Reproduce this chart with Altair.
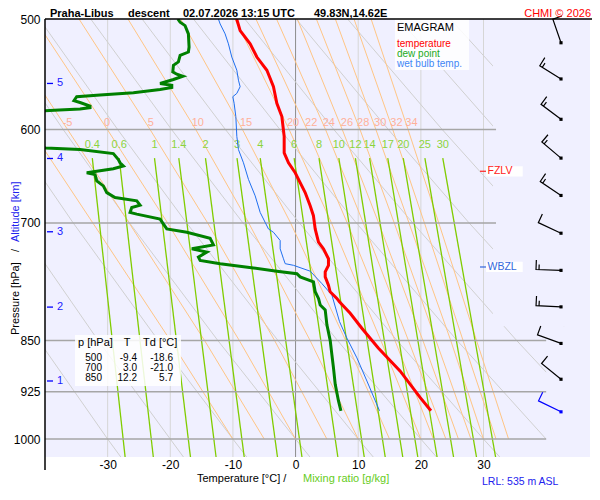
import altair as alt
import pandas as pd

FONT = 'Liberation Sans'

# --- sounding: pressure [hPa], value [degC] ---
temp_p = [500, 509.7, 520.9, 532.4, 544.1, 559.1, 574.6, 587.3, 606.8, 623.6, 633.9,
          644.4, 655.0, 665.8, 680.5, 691.7, 707.0, 722.6, 730.6, 742.6, 750.7, 759.0,
          765.2, 775.7, 784.2, 792.9, 797.2, 812.6, 832.8, 860.5, 893.9, 933.9, 954.4]
temp_t = [-9.4, -8.85, -7.25, -6.18, -4.58, -3.53, -2.99, -2.19, -1.82, -1.82, -1.13,
          -0.06, 0.73, 1.53, 2.33, 2.85, 3.13, 3.66, 4.45, 5.25, 5.25, 4.73,
          4.73, 5.25, 5.52, 6.59, 7.0, 8.72, 10.58, 13.2, 16.71, 19.9, 21.61]

dew_p = [500, 502.7, 505.5, 512.4, 523.7, 528.0, 531.0, 536.7, 539.7, 545.6, 547.7,
         549.5, 552.5, 556.1, 557.7, 559.8, 561.6, 564.6, 566.9, 568.4, 572.1, 573.9,
         577.2, 578.7, 580.0, 581.0, 583.0, 600.0, 616.0, 618.5, 620.2, 624.3, 630.5,
         633.9, 637.3, 640.2, 644.4, 646.2, 653.2, 658.5, 665.8, 671.3, 674.9, 679.8,
         682.4, 688.0, 689.9, 695.6, 707.0, 710.9, 717.9, 725.8, 730.5, 734.5, 740.6,
         744.6, 748.7, 754.0, 758.1, 761.1, 765.2, 771.5, 784.2, 792.9, 801.5, 808.1,
         828.2, 850, 870.2, 889.2, 913.7, 939.0, 954.4]
dew_t = [-18.8, -18.43, -17.64, -17.11, -17.0, -17.11, -18.43, -18.71, -19.5, -19.6, -18.96,
         -18.0, -19.5, -21.63, -19.76, -19.76, -21.63, -25.89, -31.21, -34.94, -35.37, -34.41,
         -32.81, -32.81, -34.41, -37.72, -45, -48, -45, -39.9, -34.41, -29.09, -28.29,
         -28.02, -27.49, -29.09, -33.34, -32.01, -31.74, -30.69, -30.14, -28.82, -25.35, -24.82,
         -26.15, -26.42, -25.35, -21.63, -20.56, -17.36, -13.64, -13.11, -16.57, -14.17, -15.51,
         -15.24, -12.04, -6.73, -2.99, 0.21, 0.73, 2.86, 3.13, 3.66, 3.93, 4.73,
         5.0, 5.53, 5.8, 6.05, 6.33, 6.85, 7.24]

wet_p = [500, 504.1, 512.4, 520.9, 532.4, 544.1, 553.1, 559.1, 565.3, 568.4, 574.6,
         587.3, 606.8, 620.2, 633.9, 651.5, 669.4, 688.0, 699.3, 707.0, 710.9, 720.6,
         730.6, 742.7, 748.7, 750.7, 758.0, 773.7, 788.5, 823.7, 846.5, 874.6, 908.7, 954.4]
wet_t = [-12.32, -12.04, -11.25, -10.72, -10.18, -9.38, -9.12, -8.85, -9.38, -10.02, -9.81,
         -9.54, -9.38, -9.12, -8.32, -7.52, -6.45, -5.65, -4.86, -4.33, -3.53, -2.46,
         -2.46, -1.93, -1.66, -0.34, 2.33, 4.2, 5.8, 7.01, 8.19, 9.79, 11.39, 13.4]

# --- diagram lines ---
iso_t = [-30, -20, -10, 0, 10, 20, 30]
isobar_p = [600, 700, 850, 925, 1000]
isobar_end = [32, 32, 40, 40, 40]

dry_levels = [500, 600, 700, 850, 1000, 1030]
dry_t = [
    [-73.7, -63.0, -53.6, -41.0, -30, -27.9],
    [-65.5, -54.4, -44.5, -31.5, -20, -17.9],
    [-57.3, -45.7, -35.5, -21.9, -10, -7.8],
    [-49.1, -37.1, -26.5, -12.4, 0, 2.3],
    [-40.9, -28.4, -17.4, -2.8, 10, 12.4],
    [-32.7, -19.8, -8.4, 6.7, 20, 22.5],
    [-24.5, -11.2, 0.6, 16.2, 30, 32.6],
    [-16.3, -2.5, 9.7, 25.8, 40, 42.7],
    [-8.1, 6.1, 18.7, 35.3, 50, 52.7],
    [0.1, 14.8, 27.7, 44.9, 60, 62.8],
    [8.3, 23.4, 36.8, 54.4, 70, 72.9],
    [16.5, 32.0, 45.8, 64.0, 80, 83.0],
    [24.7, 40.7, 54.8, 73.5, 90, 93.1],
    [32.9, 49.3, 63.9, 83.1, 100, 103.2],
]

moist_levels = [500, 600, 700, 850, 1000]
moist_theta = [-10, -5, 0, 5, 10, 15, 20, 22, 24, 26, 28, 30, 32, 34]
moist_t = [
    [-53.7, -42.25, -32.37, -19.97, -10],
    [-48.0, -36.40, -26.58, -14.52, -5],
    [-41.65, -30.05, -20.43, -8.97, 0],
    [-34.57, -23.23, -14.04, -3.34, 5],
    [-26.76, -15.94, -7.48, 2.33, 10],
    [-18.34, -8.48, -0.80, 8.0, 15],
    [-9.67, -1.03, 5.73, 13.62, 20],
    [-6.33, 1.83, 8.25, 15.87, 22],
    [-3.04, 4.78, 10.81, 18.02, 24],
    [0.28, 7.45, 13.26, 20.33, 26],
    [3.32, 10.28, 15.75, 22.42, 28],
    [6.35, 12.82, 18.10, 24.77, 30],
    [9.33, 15.51, 20.57, 26.74, 32],
    [12.06, 17.95, 22.86, 28.89, 34],
]
moist_labels = ['-5', '0', '5', '10', '15', '20', '22', '24', '26', '28', '30', '32', '34']
moist_label_t = [-36.4, -30.1, -23.1, -15.6, -7.9, -0.4, 2.5, 5.3, 8.2, 10.8, 13.5, 16.1, 18.5]
moist_label_p = 594

mix_labels = ['0.4', '0.6', '1', '1.4', '2', '3', '4', '6', '8', '10', '12', '14', '17', '20', '25', '30']
mix_top_p, mix_bot_p = 629, 1030
mix_top_t = [-32.45, -28.16, -22.52, -18.64, -14.38, -9.35, -5.64, -0.23, 3.74, 6.91,
             9.55, 11.82, 14.72, 17.19, 20.64, 23.50]
mix_bot_t = [-27.21, -22.71, -16.78, -12.69, -8.20, -2.89, 1.02, 6.75, 10.96, 14.31,
             17.11, 19.51, 22.59, 25.22, 28.88, 31.93]
mix_label_p = 616

# area on the right where the grid lines stop
mask_t0 = [31.5, 40]
mask_p0 = [500, 830]
mask_p1 = [830, 1030]

# altitude marks
alt_km = ['5', '4', '3', '2', '1']
alt_p = [556.1, 629.4, 710.3, 804.3, 908.6]

# wind barbs
barb_p = [520, 552, 590, 629, 669, 712, 757, 804, 854, 906, 956]
barb_dir = [341, 302, 307, 310, 304, 295, 272, 273, 290, 309, 296]
barb_kt = [10, 15, 15, 15, 15, 10, 15, 15, 10, 10, 10]

# table of standard levels
tbl_p = [500, 700, 850]
tbl_t = [-9.4, 3.0, 12.2]
tbl_td = [-18.6, -21.0, 5.7]

fzlv_p = 642.8
wbzl_p = 752.8

W, H = 545, 438
x_scale = alt.Scale(domain=[-40, 47], nice=False, zero=False)
y_scale = alt.Scale(type='log', domain=[500, 1030], reverse=True, nice=False)


def xenc(field='t'):
    return alt.X(f'{field}:Q', scale=x_scale,
                 axis=alt.Axis(values=iso_t, labelExpr="'' + datum.value", title=None,
                               grid=False, ticks=False, tickSize=0, domain=False,
                               labelFontSize=12, labelFont=FONT, labelColor='black',
                               labelPadding=2))


def yenc(field='p'):
    return alt.Y(f'{field}:Q', scale=y_scale,
                 axis=alt.Axis(values=[500, 600, 700, 850, 925, 1000],
                               labelExpr="'' + datum.value", title=None,
                               grid=False, ticks=False, tickSize=0, domain=False,
                               labelFontSize=12, labelFont=FONT, labelColor='black',
                               labelPadding=5))


ONE = pd.DataFrame({'a': [0]})


def label(text, x, y, color='black', size=11, bold=False, align='left', angle=0,
          baseline='middle'):
    kw = dict(text=text, align=align, baseline=baseline, color=color, fontSize=size,
              font=FONT, fontWeight='bold' if bold else 'normal')
    if angle:
        kw['angle'] = angle
        kw['baseline'] = 'alphabetic'
    return alt.Chart(ONE).mark_text(**kw).encode(x=alt.value(x), y=alt.value(y))


def long_lines(levels, table):
    rows = []
    for k, line in enumerate(table):
        for p, t in zip(levels, line):
            rows.append({'line': k, 'p': p, 't': t})
    return pd.DataFrame(rows)


def profile(ps, ts):
    return pd.DataFrame({'p': ps, 't': ts, 'i': range(len(ps))})


dry = long_lines(dry_levels, dry_t)
moist = long_lines(moist_levels, moist_t)
mix = long_lines([mix_top_p, mix_bot_p], [list(v) for v in zip(mix_top_t, mix_bot_t)])

isotherms = alt.Chart(pd.DataFrame({'t': iso_t})).mark_rule(strokeWidth=1).encode(
    x=xenc(),
    color=alt.condition('datum.t == 0', alt.value('#8C8C8C'), alt.value('#D6D6D6'))
)
dry_lines = alt.Chart(dry).mark_line(clip=True, color='#D0D0D0', strokeWidth=1).encode(
    x=xenc(), y=yenc(), detail='line:N', order='p:Q')
moist_lines = alt.Chart(moist).mark_line(clip=True, color='#FFC585', strokeWidth=1).encode(
    x=xenc(), y=yenc(), detail='line:N', order='p:Q')
mix_lines = alt.Chart(mix).mark_line(clip=True, color='#80CC00', strokeWidth=1.3).encode(
    x=xenc(), y=yenc(), detail='line:N', order='p:Q')
mask = alt.Chart(pd.DataFrame({'t0': mask_t0, 't1': [47, 47], 'p0': mask_p0, 'p1': mask_p1})
                 ).mark_rect(color='#F0F0FF').encode(x=xenc('t0'), x2='t1', y=yenc('p0'), y2='p1')
isobars = alt.Chart(pd.DataFrame({'p': isobar_p, 't0': -40, 't1': isobar_end})).mark_rule(
    color='#A6A6A6', strokeWidth=1.5).encode(x=xenc('t0'), x2='t1', y=yenc())

moist_text = alt.Chart(pd.DataFrame({'t': moist_label_t, 'p': moist_label_p, 'lab': moist_labels})
                       ).mark_text(color='#FFB09A', fontSize=11, font=FONT).encode(
    x=xenc(), y=yenc(), text='lab:N')
mix_text = alt.Chart(pd.DataFrame({'t': mix_top_t, 'p': mix_label_p, 'lab': mix_labels})
                     ).mark_text(color='#8CD43C', fontSize=11, font=FONT).encode(
    x=xenc(), y=yenc(), text='lab:N')

# boxes behind legend and table
legend_box = alt.Chart(ONE).mark_rect(color='white', opacity=0.85).encode(
    x=alt.value(350), x2=alt.value(424), y=alt.value(0), y2=alt.value(51))
table_box = alt.Chart(ONE).mark_rect(color='white', opacity=0.85).encode(
    x=alt.value(30), x2=alt.value(136), y=alt.value(316), y2=alt.value(367))

wet = alt.Chart(profile(wet_p, wet_t)).mark_line(clip=True, color='#1F6FEF', strokeWidth=1).encode(
    x=xenc(), y=yenc(), order='i:Q')
dew = alt.Chart(profile(dew_p, dew_t)).mark_line(clip=True, color='#008000', strokeWidth=3).encode(
    x=xenc(), y=yenc(), order='i:Q')
temp = alt.Chart(profile(temp_p, temp_t)).mark_line(clip=True, color='#FF0000', strokeWidth=3).encode(
    x=xenc(), y=yenc(), order='i:Q')

# wind barbs: shaft points to where the wind blows from, feathers on the clockwise side
barb_df = pd.DataFrame({'p': barb_p, 'dir': barb_dir, 'kt': [str(v) for v in barb_kt]})
barb_color = alt.condition('datum.p > 940', alt.value('#0000FF'), alt.value('black'))
barbs = alt.Chart(barb_df).mark_point(filled=False, size=2500, strokeWidth=1.2, opacity=1).encode(
    x=alt.value(516), y=yenc(),
    angle=alt.Angle('dir:Q', scale=None),
    shape=alt.Shape('kt:N', legend=None, scale=alt.Scale(
        domain=['10', '15'],
        range=['M0,0L0,-1L0.38,-1', 'M0,0L0,-1L0.38,-1M0,-0.88L0.2,-0.88'])),
    color=barb_color)
barb_dots = alt.Chart(barb_df).mark_square(size=10, opacity=1).encode(
    x=alt.value(516), y=yenc(), color=barb_color)

# altitude scale
km_df = pd.DataFrame({'p': alt_p, 'km': alt_km})
km_ticks = alt.Chart(km_df).mark_rule(color='#0000FF', strokeWidth=1.3).encode(
    x=alt.value(2), x2=alt.value(8), y=yenc())
km_text = alt.Chart(km_df).mark_text(align='left', color='#2020FF', fontSize=11, font=FONT).encode(
    x=alt.value(12), y=yenc(), text='km:N')


def level_mark(name, p, color):
    d = pd.DataFrame({'p': [p], 'lab': [name]})
    box = alt.Chart(d).mark_point(shape='M-1,-0.28H1V0.28H-1Z', size=1340, filled=True,
                                  color='white', opacity=1).encode(x=alt.value(459.4), y=yenc())
    dash = alt.Chart(d).mark_rule(color=color, strokeWidth=1.2).encode(
        x=alt.value(435), x2=alt.value(441), y=yenc())
    txt = alt.Chart(d).mark_text(align='left', color=color, fontSize=10.5, font=FONT).encode(
        x=alt.value(442.5), y=yenc(), text='lab:N')
    return [box, dash, txt]


frame_top = alt.Chart(ONE).mark_rule(color='black', strokeWidth=1.5).encode(
    x=alt.value(0), x2=alt.value(547), y=alt.value(0))
frame_left = alt.Chart(ONE).mark_rule(color='black', strokeWidth=1.5).encode(
    x=alt.value(0), y=alt.value(0), y2=alt.value(451))

texts = [
    label('Praha-Libus', 5, -2, size=11, bold=True, baseline='alphabetic'),
    label('descent', 83, -2, size=11, bold=True, baseline='alphabetic'),
    label('02.07.2026 13:15 UTC', 138, -2, size=11, bold=True, baseline='alphabetic'),
    label('49.83N,14.62E', 269, -2, size=11, bold=True, baseline='alphabetic'),
    label('CHMI \u00a9 2026', 546, -2, color='#FF0000', size=11, align='right',
          baseline='alphabetic'),
    label('EMAGRAM', 352, 9, size=11),
    label('temperature', 352, 25, color='#FF0000', size=10),
    label('dew point', 352, 35, color='#22AA22', size=10),
    label('wet bulb temp.', 352, 45, color='#3F86F5', size=10),
    label('p [hPa]', 33, 324, size=11),
    label('T', 82, 324, size=11, align='center'),
    label('Td [\u00b0C]', 98, 324, size=11),
    label('Temperature [\u00b0C]  /', 152, 460, size=11),
    label('Mixing ratio [g/kg]', 258, 460, color='#66CC22', size=11),
    label('LRL: 535 m ASL', 437, 463, color='#2222EE', size=10.5),
    label('Pressure [hPa]', -26, 316, size=11, angle=270),
    label('/', -26, 233, size=11, angle=270),
    label('Altitude [km]', -26, 223, color='#2222EE', size=11, angle=270),
]
for i, (p, t, td) in enumerate(zip(tbl_p, tbl_t, tbl_td)):
    y = 339 + 10 * i
    texts.append(label(str(p), 57, y, size=10, align='right'))
    texts.append(label(f'{t:.1f}', 92, y, size=10, align='right'))
    texts.append(label(f'{td:.1f}', 128, y, size=10, align='right'))

layers = [isotherms, dry_lines, moist_lines, mix_lines, mask, isobars, moist_text, mix_text,
          legend_box, table_box, wet, dew, temp, barbs, barb_dots, km_ticks, km_text]
layers += level_mark('FZLV', fzlv_p, '#FF2020')
layers += level_mark('WBZL', wbzl_p, '#3366DD')
layers += [frame_top, frame_left] + texts

# whole page must stay inside 600x500 with the 8px body margin
chart = alt.layer(*layers).properties(
    width=W, height=H, autosize='none',
    padding={'left': 37, 'top': 11, 'right': 2, 'bottom': 35}
).configure_view(fill='#F0F0FF', stroke=None)

chart.save('out.html', embed_options={'renderer': 'svg', 'actions': False})
